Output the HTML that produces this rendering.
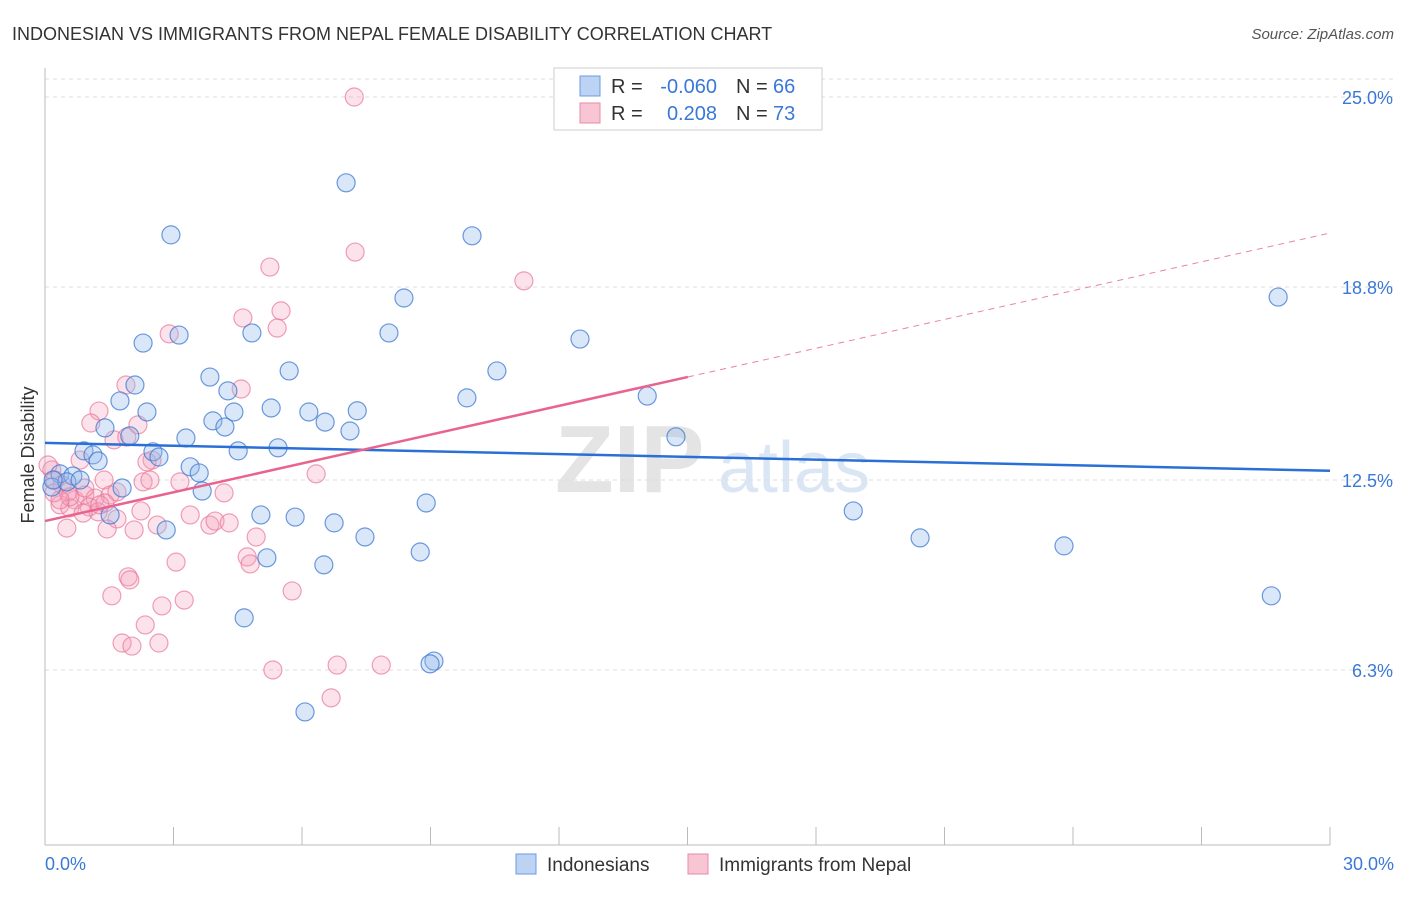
<!DOCTYPE html>
<html><head><meta charset="utf-8"><style>
body{margin:0;background:#fff;font-family:"Liberation Sans",sans-serif}
svg text{font-family:"Liberation Sans",sans-serif}
</style></head><body>
<svg id="chart" width="1406" height="892">
<text x="12" y="40" font-size="18" fill="#333">INDONESIAN VS IMMIGRANTS FROM NEPAL FEMALE DISABILITY CORRELATION CHART</text>
<text x="1394" y="39" font-size="15" fill="#555" font-style="italic" text-anchor="end">Source: ZipAtlas.com</text>
<text x="555" y="492" font-size="96" fill="#e4e4e4" font-weight="bold" font-family="Liberation Serif">ZIP</text>
<text x="718" y="492" font-size="72" fill="#dbe6f5">atlas</text>
<g id="grid"></g><g id="axes"></g><g id="pts"></g><g id="trend"></g>
<text transform="translate(34,455) rotate(-90)" font-size="18" fill="#333" text-anchor="middle">Female Disability</text>
<g>
<rect x="554" y="68" width="268" height="62" fill="#fff" stroke="#ccc"/>
<rect x="580" y="76" width="20" height="20" fill="#bcd3f3" stroke="#6a9be0"/>
<text x="611" y="93" font-size="20" fill="#333">R =</text>
<text x="717" y="93" font-size="20" fill="#3a78d8" text-anchor="end">-0.060</text>
<text x="736" y="93" font-size="20" fill="#333">N =</text>
<text x="773" y="93" font-size="20" fill="#3a78d8">66</text>
<rect x="580" y="103" width="20" height="20" fill="#f8c5d4" stroke="#e88aa6"/>
<text x="611" y="120" font-size="20" fill="#333">R =</text>
<text x="717" y="120" font-size="20" fill="#3a78d8" text-anchor="end">0.208</text>
<text x="736" y="120" font-size="20" fill="#333">N =</text>
<text x="773" y="120" font-size="20" fill="#3a78d8">73</text>
</g>
<g>
<rect x="516" y="854" width="20" height="20" fill="#bcd3f3" stroke="#6a9be0"/>
<text x="547" y="871" font-size="19" fill="#333">Indonesians</text>
<rect x="688" y="854" width="20" height="20" fill="#f8c5d4" stroke="#e88aa6"/>
<text x="719" y="871" font-size="19" fill="#333">Immigrants from Nepal</text>
</g>
</svg>
<script>
const blueX=[2.94,7.03,9.97,2.29,3.13,4.83,8.03,8.38,12.49,28.79,3.85,5.70,10.55,2.10,1.75,4.27,2.38,4.41,5.28,6.16,7.29,3.92,9.85,14.06,1.40,1.98,4.20,6.54,7.12,3.29,14.73,0.91,1.12,2.52,2.66,4.51,5.44,1.24,3.39,3.60,0.35,0.65,0.16,0.51,1.80,3.67,8.90,1.52,2.83,5.04,5.84,6.75,7.47,18.87,20.43,23.79,8.76,5.18,6.51,4.65,28.63,9.08,8.99,6.07,0.19,0.82];
const blueY=[20.50,22.20,20.47,16.97,17.23,17.30,17.30,18.44,17.10,18.47,15.86,16.06,16.06,15.60,15.08,15.41,14.72,14.72,14.85,14.72,14.76,14.43,15.18,15.24,14.20,13.94,14.23,14.39,14.10,13.87,13.91,13.45,13.32,13.42,13.25,13.45,13.55,13.12,12.93,12.73,12.70,12.63,12.27,12.44,12.24,12.14,11.75,11.36,10.87,11.36,11.29,11.10,10.64,11.49,10.61,10.35,10.15,9.96,9.73,8.00,8.72,6.59,6.50,4.93,12.50,12.50];
const pinkX=[7.22,7.24,5.25,11.18,5.51,4.62,5.42,2.90,1.89,4.58,1.26,1.07,2.17,1.61,1.91,2.50,2.38,6.33,3.15,2.29,1.38,0.82,0.16,0.07,0.23,0.40,0.54,0.70,0.93,1.17,1.52,1.68,1.03,0.35,0.58,1.24,0.89,1.68,4.18,2.24,2.62,2.08,1.45,0.51,3.85,3.97,4.30,4.93,3.06,4.72,4.79,1.94,1.98,1.56,5.77,3.25,2.73,2.34,1.80,2.03,2.66,5.32,6.82,7.85,6.68,0.21,0.58,1.40,3.39,1.28,2.45,0.35,0.93];
const pinkY=[25.00,19.94,19.45,19.00,18.02,17.79,17.46,17.27,15.60,15.47,14.75,14.36,14.30,13.81,13.90,13.15,13.09,12.70,12.44,12.44,12.50,13.15,12.83,12.99,12.50,12.34,12.11,11.85,12.01,11.91,12.01,12.11,11.62,11.69,11.59,11.46,11.42,11.23,12.08,11.49,11.03,10.87,10.90,10.93,11.03,11.16,11.10,10.64,9.82,9.99,9.76,9.34,9.24,8.72,8.88,8.58,8.39,7.77,7.18,7.08,7.18,6.30,6.46,6.46,5.39,12.08,11.95,11.75,11.36,11.69,12.50,11.85,12.24];
const yTicks=[6.3,12.5,18.8,25.0];
const yTickLabels=["6.3%","12.5%","18.8%","25.0%"];
const blueTrend=[13.71,12.80];
const pinkTrend=[11.16,20.56];
const pinkSolidEnd=15.01;
const NS="http://www.w3.org/2000/svg";
const sx=v=>45+v/30*1285, sy=v=>863-v*30.64;
function mk(t,a,p){const e=document.createElementNS(NS,t);for(const k in a)e.setAttribute(k,a[k]);document.getElementById(p).appendChild(e);return e;}
yTicks.forEach((t,i)=>{
 const l=mk('line',{x1:45,x2:1394,y1:sy(t),y2:sy(t),stroke:'#ddd','stroke-dasharray':'4,4'},'grid');
 
 
 const tx=mk('text',{x:1393,y:sy(t)+7,'font-size':18,fill:'#3a78d8','text-anchor':'end'},'grid');tx.textContent=yTickLabels[i];
 
 
});
mk('line',{x1:45,x2:1394,y1:79,y2:79,stroke:'#ddd','stroke-dasharray':'4,4'},'grid');
mk('line',{x1:45,x2:45,y1:68,y2:845,stroke:'#bbb'},'axes');
mk('line',{x1:45,x2:1330,y1:845,y2:845,stroke:'#bbb'},'axes');
for(let i=0;i<=10;i++){mk('line',{x1:sx(i*3),x2:sx(i*3),y1:827,y2:845,stroke:'#bbb'},'axes');}
let t1=mk('text',{x:45,y:870,'font-size':18,fill:'#3a78d8'},'axes');t1.textContent='0.0%';


let t2=mk('text',{x:1394,y:870,'font-size':18,fill:'#3a78d8','text-anchor':'end'},'axes');t2.textContent='30.0%';


pinkX.forEach((x,i)=>{const c=mk('circle',{cx:sx(x),cy:sy(pinkY[i]),r:9,fill:'rgba(244,160,186,0.3)',stroke:'rgba(232,120,155,0.7)','stroke-width':1.2},'pts');
 
 });
blueX.forEach((x,i)=>{const c=mk('circle',{cx:sx(x),cy:sy(blueY[i]),r:9,fill:'rgba(150,185,235,0.35)',stroke:'rgba(60,120,210,0.75)','stroke-width':1.2},'pts');
 
 });
const bl=mk('line',{x1:sx(0),y1:sy(blueTrend[0]),x2:sx(30),y2:sy(blueTrend[1]),stroke:'#2a6fd6','stroke-width':2.5},'trend');


const pv=x=>pinkTrend[0]+(pinkTrend[1]-pinkTrend[0])*x/30;
const pl=mk('line',{x1:sx(0),y1:sy(pv(0)),x2:sx(pinkSolidEnd),y2:sy(pv(pinkSolidEnd)),stroke:'#e8648e','stroke-width':2.5},'trend');


const pd=mk('line',{x1:sx(pinkSolidEnd),y1:sy(pv(pinkSolidEnd)),x2:sx(30),y2:sy(pv(30)),stroke:'#e8849f','stroke-width':1,'stroke-dasharray':'6,5'},'trend');


</script>
</body></html>
